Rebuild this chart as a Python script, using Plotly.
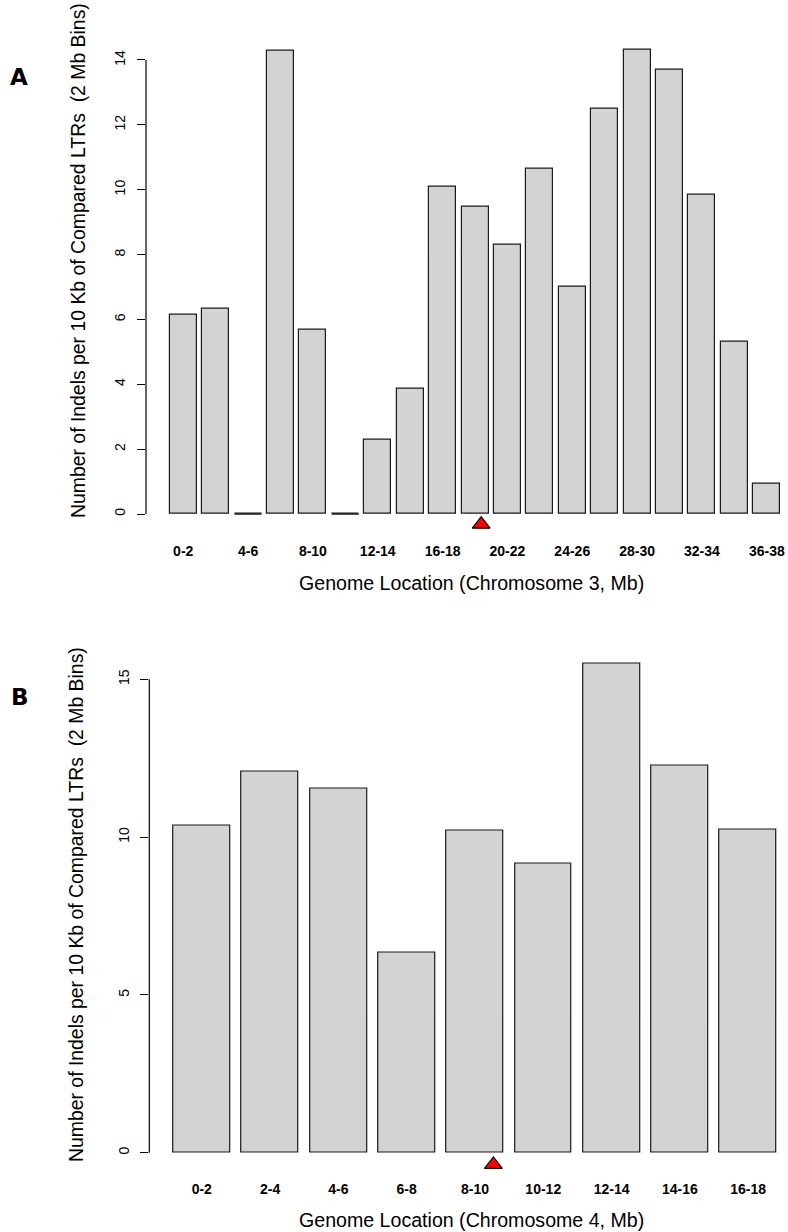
import plotly.graph_objects as go

# ---------------- data ----------------
chr3_bins = ["0-2", "2-4", "4-6", "6-8", "8-10", "10-12", "12-14", "14-16", "16-18",
             "18-20", "20-22", "22-24", "24-26", "26-28", "28-30", "30-32", "32-34",
             "34-36", "36-38"]
chr3_values = [6.15, 6.33, 0.0, 14.27, 5.68, 0.0, 2.29, 3.87, 10.09,
               9.47, 8.30, 10.63, 7.01, 12.51, 14.32, 13.69, 9.83, 5.31, 0.94]
chr3_ticks = [0, 2, 4, 6, 8, 10, 12, 14]
chr3_marker_pos = [9.19]      # centromere marker (bar-index units)

chr4_bins = ["0-2", "2-4", "4-6", "6-8", "8-10", "10-12", "12-14", "14-16", "16-18"]
chr4_values = [10.36, 12.08, 11.55, 6.35, 10.20, 9.17, 15.49, 12.26, 10.24]
chr4_ticks = [0, 5, 10, 15]
chr4_marker_pos = [4.27]

W, H = 788, 1232
FONT = "Liberation Sans, Arial, Helvetica, sans-serif"
BAR_W = 1 / 1.2            # R barplot: width 1, space 0.2


def px_x(p):
    return p / W


def px_y(p):
    return 1 - p / H


fig = go.Figure()

panels = [
    dict(bins=chr3_bins, vals=chr3_values, ticks=chr3_ticks, mpos=chr3_marker_pos,
         xa="x", ya="y", xdom=[px_x(146), 1.0], xr=[-1.148, 18.654],
         ydom=[px_y(533.5), px_y(30.8)], yr=[-0.6, 14.9], mark_y=-0.316,
         label_step=2, axis_px=146,
         title="Genome Location (Chromosome 3, Mb)", title_y=583, ytitle_y=261,
         ytitle_x=78, letter="A", letter_xy=(19, 77)),
    dict(bins=chr4_bins, vals=chr4_values, ticks=chr4_ticks, mpos=chr4_marker_pos,
         xa="x2", ya="y2", xdom=[px_x(149.3), 1.0], xr=[-0.768, 8.583],
         ydom=[px_y(1172.3), px_y(644.6)], yr=[-0.62, 16.1], mark_y=-0.374,
         label_step=1, axis_px=149.3,
         title="Genome Location (Chromosome 4, Mb)", title_y=1220, ytitle_y=905,
         ytitle_x=76, letter="B", letter_xy=(20, 697)),
]

ytitle = "Number of Indels per 10 Kb of Compared LTRs  (2 Mb Bins)"

for i, p in enumerate(panels):
    xs = list(range(len(p["bins"])))
    fig.add_trace(go.Bar(
        x=xs, y=p["vals"], width=BAR_W, xaxis=p["xa"], yaxis=p["ya"],
        marker=dict(color="#D3D3D3", line=dict(color="#1a1a1a", width=1.2)),
        showlegend=False, hoverinfo="x+y"))
    # zero-height bars drawn as a flat outline (as R does)
    zx, zy = [], []
    for xi, v in zip(xs, p["vals"]):
        if v == 0:
            zx += [xi - BAR_W / 2, xi + BAR_W / 2, None]
            zy += [0, 0, None]
    if zx:
        fig.add_trace(go.Scatter(x=zx, y=zy, mode="lines", xaxis=p["xa"], yaxis=p["ya"],
                                 line=dict(color="#1a1a1a", width=1.6),
                                 showlegend=False, hoverinfo="skip"))
    fig.add_trace(go.Scatter(
        x=p["mpos"], y=[p["mark_y"]] * len(p["mpos"]), mode="markers",
        xaxis=p["xa"], yaxis=p["ya"], cliponaxis=False,
        marker=dict(symbol="triangle-up", size=15.5, color="#FF0000",
                    line=dict(color="black", width=1.1)),
        showlegend=False, hoverinfo="skip"))

    sfx = "" if i == 0 else "2"
    fig.update_layout(**{
        "xaxis" + sfx: dict(
            domain=p["xdom"], range=p["xr"], anchor="y" + sfx,
            tickmode="array", tickvals=xs[::p["label_step"]],
            ticktext=p["bins"][::p["label_step"]],
            showgrid=False, zeroline=False, showline=False, ticks="",
            tickfont=dict(family=FONT, size=14, color="black", weight="bold"),
            ticklabelstandoff=7, fixedrange=True),
        "yaxis" + sfx: dict(
            domain=p["ydom"], range=p["yr"], anchor="x" + sfx,
            tickmode="array", tickvals=p["ticks"],
            showgrid=False, zeroline=False, showline=False,
            ticks="outside", ticklen=8, tickwidth=1.2, tickcolor="black",
            tickangle=-90, tickfont=dict(family=FONT, size=14, color="black"),
            ticklabelstandoff=6, fixedrange=True),
    })
    # y axis line spanning first to last tick (R style)
    fig.add_shape(type="line", xref="paper", yref="y" + sfx,
                  x0=px_x(p["axis_px"]), x1=px_x(p["axis_px"]),
                  y0=p["ticks"][0], y1=p["ticks"][-1],
                  line=dict(color="black", width=1.2))
    fig.add_annotation(text=p["title"], xref="paper", yref="paper",
                       x=px_x(471), y=px_y(p["title_y"]), showarrow=False,
                       xanchor="center", yanchor="middle",
                       font=dict(family=FONT, size=19.6, color="black"))
    fig.add_annotation(text=ytitle, xref="paper", yref="paper", textangle=-90,
                       x=px_x(p["ytitle_x"]), y=px_y(p["ytitle_y"]), showarrow=False,
                       xanchor="center", yanchor="middle",
                       font=dict(family=FONT, size=19.4, color="black"))
    fig.add_annotation(text="<b>" + p["letter"] + "</b>", xref="paper", yref="paper",
                       x=px_x(p["letter_xy"][0]), y=px_y(p["letter_xy"][1]),
                       showarrow=False, xanchor="center", yanchor="middle",
                       font=dict(family="DejaVu Sans, Verdana, sans-serif", size=23,
                                 color="black"))

fig.update_layout(width=W, height=H, margin=dict(l=0, r=0, t=0, b=0),
                  paper_bgcolor="white", plot_bgcolor="white", bargap=0,
                  showlegend=False)

fig.write_html("out.html",
               config={"displayModeBar": False, "staticPlot": False},
               post_script="document.body.style.margin='0';"
                           "document.body.style.overflow='hidden';")
